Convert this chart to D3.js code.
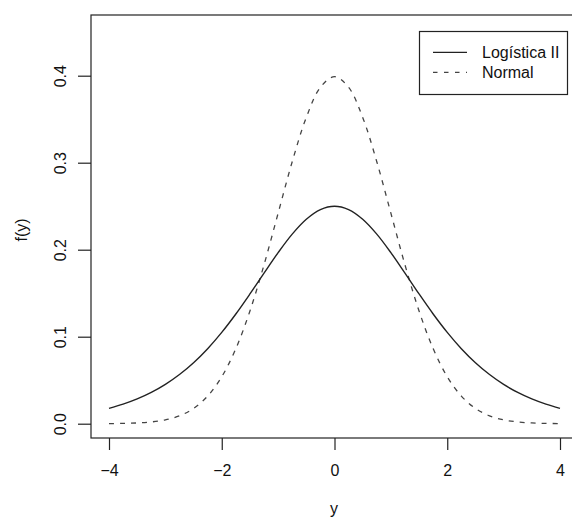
<!DOCTYPE html>
<html>
<head>
<meta charset="utf-8">
<script src="https://cdn.jsdelivr.net/npm/d3@7"></script>
<style>
  html, body { margin: 0; padding: 0; background: #fff; }
  svg { display: block; font-family: "Liberation Sans", Arial, sans-serif; }
</style>
</head>
<body>
<svg id="chart" width="572" height="519"></svg>
<script>
// Densities evaluated on a grid of y values
const yGrid = [-4, -3.75, -3.5, -3.25, -3, -2.75, -2.5, -2.25, -2, -1.75, -1.5, -1.25, -1, -0.75, -0.5, -0.25,
  0, 0.25, 0.5, 0.75, 1, 1.25, 1.5, 1.75, 2, 2.25, 2.5, 2.75, 3, 3.25, 3.5, 3.75, 4];
const logisticValues = [0.01766, 0.02245, 0.02845, 0.03593, 0.04518, 0.05648, 0.07010, 0.08626, 0.10499,
  0.12613, 0.14915, 0.17310, 0.19661, 0.21789, 0.23500, 0.24613, 0.25000, 0.24613, 0.23500, 0.21789,
  0.19661, 0.17310, 0.14915, 0.12613, 0.10499, 0.08626, 0.07010, 0.05648, 0.04518, 0.03593, 0.02845,
  0.02245, 0.01766];
const normalValues = [0.00013, 0.00035, 0.00087, 0.00203, 0.00443, 0.00909, 0.01753, 0.03174, 0.05399,
  0.08628, 0.12952, 0.18265, 0.24197, 0.30114, 0.35207, 0.38667, 0.39894, 0.38667, 0.35207, 0.30114,
  0.24197, 0.18265, 0.12952, 0.08628, 0.05399, 0.03174, 0.01753, 0.00909, 0.00443, 0.00203, 0.00087,
  0.00035, 0.00013];
const xTicks = [-4, -2, 0, 2, 4];
const xTickLabels = ["\u22124", "\u22122", "0", "2", "4"];
const yTicks = [0, 0.1, 0.2, 0.3, 0.4];
const yTickLabels = ["0.0", "0.1", "0.2", "0.3", "0.4"];
const seriesNames = ["Logística II", "Normal"];

const svg = d3.select("#chart");
const x = d3.scaleLinear().domain([-4, 4]).range([109, 560]);
const y = d3.scaleLinear().domain([0, 0.4]).range([423.7, 75.7]);

const box = { left: 91, top: 15, right: 580, bottom: 438 };
const ink = "#222";

// plot frame
svg.append("rect")
  .attr("x", box.left).attr("y", box.top)
  .attr("width", box.right - box.left).attr("height", box.bottom - box.top)
  .attr("fill", "none").attr("stroke", ink).attr("stroke-width", 1.2);

// x axis
const xAxis = d3.axisBottom(x).tickValues(xTicks).tickSize(12)
  .tickFormat((d, i) => xTickLabels[i]);
const gx = svg.append("g").attr("transform", `translate(0,${box.bottom})`).call(xAxis);
gx.select(".domain").remove();
gx.selectAll(".tick line").attr("stroke", ink).attr("stroke-width", 1.2);
gx.selectAll(".tick text").attr("font-size", 16).attr("fill", "#111")
  .attr("font-family", "Liberation Sans, Arial, sans-serif").attr("y", 27).attr("dy", "0.71em");

// y axis with rotated labels
const yAxis = d3.axisLeft(y).tickValues(yTicks).tickSize(13)
  .tickFormat((d, i) => yTickLabels[i]);
const gy = svg.append("g").attr("transform", `translate(${box.left},0)`).call(yAxis);
gy.select(".domain").remove();
gy.selectAll(".tick line").attr("stroke", ink).attr("stroke-width", 1.2);
gy.selectAll(".tick text")
  .attr("font-size", 16).attr("fill", "#111")
  .attr("font-family", "Liberation Sans, Arial, sans-serif")
  .attr("x", null).attr("dy", null)
  .attr("text-anchor", "middle")
  .attr("transform", "translate(-25,0) rotate(-90)");

// axis titles
svg.append("text").attr("x", 334).attr("y", 514).attr("text-anchor", "middle")
  .attr("font-size", 16).attr("fill", "#111").text("y");
svg.append("text").attr("transform", "translate(27,230) rotate(-90)").attr("text-anchor", "middle")
  .attr("font-size", 16).attr("fill", "#111").text("f(y)");

// density curves
const line = values => d3.line()
  .x((d, i) => x(yGrid[i]))
  .y(d => y(d))
  .curve(d3.curveCatmullRom)(values);

svg.append("path").attr("d", line(normalValues))
  .attr("fill", "none").attr("stroke", "#444").attr("stroke-width", 1.3)
  .attr("stroke-dasharray", "5,6");
svg.append("path").attr("d", line(logisticValues))
  .attr("fill", "none").attr("stroke", ink).attr("stroke-width", 1.4);

// legend
const lg = svg.append("g");
lg.append("rect").attr("x", 419.5).attr("y", 31.5).attr("width", 148).attr("height", 63)
  .attr("fill", "#fff").attr("stroke", ink).attr("stroke-width", 1.2);
const styles = [{ dash: null, color: ink }, { dash: "4.5,6.5", color: "#444" }];
seriesNames.forEach((name, i) => {
  const cy = 52.3 + i * 20;
  lg.append("line").attr("x1", 433).attr("x2", 467).attr("y1", cy).attr("y2", cy)
    .attr("stroke", styles[i].color).attr("stroke-width", 1.3)
    .attr("stroke-dasharray", styles[i].dash);
  lg.append("text").attr("x", 482).attr("y", cy).attr("dy", "0.36em")
    .attr("font-size", 16).attr("fill", "#111").text(name);
});
</script>
</body>
</html>
